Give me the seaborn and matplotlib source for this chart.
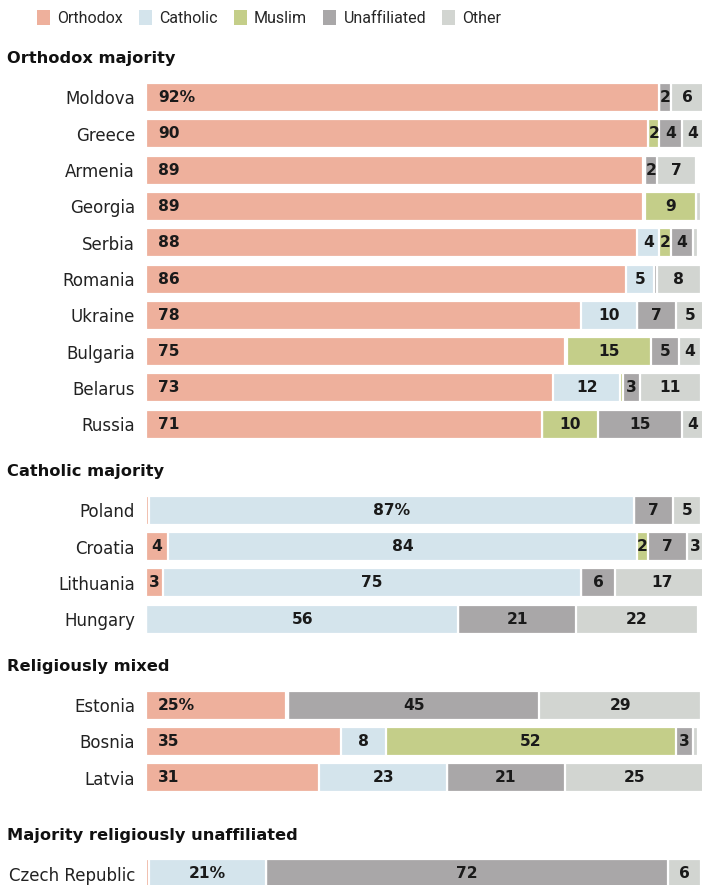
import matplotlib
matplotlib.use("Agg")
import matplotlib.pyplot as plt
import seaborn as sns
import pandas as pd
from matplotlib.patches import Patch

# ---------------- data ----------------
countries = ["Moldova", "Greece", "Armenia", "Georgia", "Serbia", "Romania",
             "Ukraine", "Bulgaria", "Belarus", "Russia",
             "Poland", "Croatia", "Lithuania", "Hungary",
             "Estonia", "Bosnia", "Latvia",
             "Czech Republic"]
groups = (["Orthodox majority"] * 10 + ["Catholic majority"] * 4 +
          ["Religiously mixed"] * 3 + ["Majority religiously unaffiliated"] * 1)
orthodox =     [92, 90, 89, 89, 88, 86, 78, 75, 73, 71,  0.5, 4, 3, 0,  25, 35, 31,  0.5]
catholic =     [0, 0, 0.5, 0.5, 4, 5, 10, 0.5, 12, 0,   87, 84, 75, 56,  0.5, 8, 23,  21]
muslim =       [0, 2, 0, 9, 2, 0, 0, 15, 0.5, 10,      0, 2, 0, 0,      0, 52, 0,    0]
unaffiliated = [2, 4, 2, 0, 4, 0.5, 7, 5, 3, 15,       7, 7, 6, 21,     45, 3, 21,   72]
other =        [6, 4, 7, 1, 1, 8, 5, 4, 11, 4,         5, 3, 17, 22,    29, 1, 25,   6]

religions = ["Orthodox", "Catholic", "Muslim", "Unaffiliated", "Other"]
colors = ["#EEB09C", "#D4E4EC", "#C4CE89", "#A9A7A8", "#D2D5D1"]

# ---------------- layout ----------------
W, H = 702, 885
bar_left_px = 146
header_y0 = 59
row_step = 36.3
header_to_row = 38.5
row_to_header = [47.5, 47.5, 57.5]
bar_h = 29
px_per_pct = 5.58
pct_right = (W - bar_left_px) / px_per_pct

sns.set_theme(style="white")
plt.rcParams["font.family"] = ["DejaVu Sans"]

df = pd.DataFrame({"country": countries, "group": groups,
                   "Orthodox": orthodox, "Catholic": catholic, "Muslim": muslim,
                   "Unaffiliated": unaffiliated, "Other": other})

# vertical positions (pixel units, top = 0)
ypos, header_pos = [], {}
prev, gi, y = None, 0, None
for g in df["group"]:
    if g != prev:
        hy = header_y0 if prev is None else y + row_to_header[gi - 1]
        header_pos[g] = hy
        y = hy + header_to_row
        gi += 1
        prev = g
    else:
        y = y + row_step
    ypos.append(y)
df["ypos"] = ypos

cum = df[religions].cumsum(axis=1)

fig = plt.figure(figsize=(W / 100, H / 100), dpi=100)
ax = fig.add_axes([bar_left_px / W, 0, 1 - bar_left_px / W, 1])

for r, c in reversed(list(zip(religions, colors))):
    sns.barplot(x=cum[r], y=df["ypos"], orient="h", native_scale=True,
                color=c, saturation=1, width=bar_h / row_step,
                edgecolor="white", linewidth=1.6, errorbar=None, ax=ax)

ax.set_ylim(H, 0)
ax.set_xlim(0, pct_right)
ax.set_xticks([])
ax.set_yticks(df["ypos"], df["country"])
ax.tick_params(axis="y", length=0, pad=8, labelsize=12, labelcolor="#222222")
ax.set_xlabel("")
ax.set_ylabel("")
for s in ax.spines.values():
    s.set_visible(False)

# value labels
first_rows = set(df.groupby("group", sort=False).head(1).index)
for i, row in df.iterrows():
    pct_done = False
    for r in religions:
        v = row[r]
        if v < 2:
            continue
        txt = f"{v:g}"
        if i in first_rows and not pct_done:
            txt += "%"
            pct_done = True
        end = cum.loc[i, r]
        if r == "Orthodox" and v >= 20:
            ax.text(12 / px_per_pct, row["ypos"], txt, ha="left", va="center",
                    fontsize=11.2, fontweight="bold", color="#1a1a1a")
        else:
            ax.text(end - v / 2, row["ypos"], txt, ha="center", va="center",
                    fontsize=11.2, fontweight="bold", color="#1a1a1a")

# group headers
for g, hy in header_pos.items():
    fig.text(7 / W, 1 - hy / H, g, ha="left", va="center", fontsize=11.7,
             fontweight="bold", color="#111111")

# legend
handles = [Patch(facecolor=c, edgecolor="none") for c in colors]
fig.legend(handles, religions, loc="center left", bbox_to_anchor=(37 / W, 1 - 18 / H),
           ncol=5, frameon=False, handlelength=0.82, handleheight=1.05,
           handletextpad=0.45, columnspacing=1.0, borderaxespad=0, borderpad=0,
           prop={"family": ["Roboto", "DejaVu Sans"], "size": 11.5})

fig.savefig("out.png", dpi=100)
